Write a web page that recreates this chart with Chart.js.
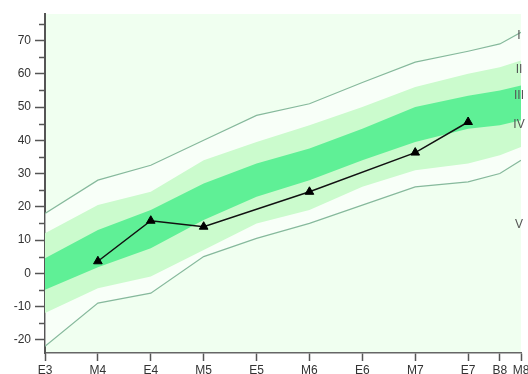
<!DOCTYPE html>
<html><head><meta charset="utf-8">
<script src="https://cdn.jsdelivr.net/npm/chart.js@4/dist/chart.umd.min.js"></script>
<style>html,body{margin:0;padding:0;background:#fff;}#wrap{width:528px;height:374px;}</style>
</head><body><div id="wrap"><canvas id="c" width="528" height="374"></canvas></div>
<script>
// x positions of the category ticks (linear axis) and their labels
const xPositions = [0, 0.5, 1, 1.5, 2, 2.5, 3, 3.5, 4, 4.3, 4.5];
const tickLabels = ['E3','M4','E4','M5','E5','M6','E6','M7','E7','B8','M8'];

// band boundaries at each x position
const upperLine   = [18, 28, 32.5, 40, 47.5, 51, 57.4, 63.5, 66.8, 69, 72.5];
const lightTop    = [12, 20.5, 24.5, 34, 39.5, 44.5, 50, 56, 60, 62, 64];
const centerTop   = [4.5, 13, 19, 27, 33, 37.5, 43.5, 50, 53.4, 55, 56.5];
const centerBot   = [-5, 1.8, 7.5, 16, 23, 28, 34, 39.5, 43.5, 44.5, 46];
const lightBot    = [-12, -4.5, -1, 7, 15, 19, 26, 31, 33, 35.5, 38];
const lowerLine   = [-22, -9, -6, 5, 10.5, 15, 20.5, 26, 27.5, 30, 34];

// measured series
const seriesX = [0.5, 1, 1.5, 2.5, 3.5, 4];
const seriesY = [3.6, 15.8, 14, 24.5, 36.3, 45.5];

// right-side band labels
const bandLabels = ['I','II','III','IV','V'];
const bandLabelValues = [71.5, 61.3, 53.5, 44.7, 14.7];

const pts = arr => xPositions.map((x, i) => ({x: x, y: arr[i]}));

const bgPlugin = {
  id: 'bg',
  beforeDraw(chart) {
    const {ctx, chartArea: a} = chart;
    ctx.save();
    ctx.fillStyle = '#f0fff0';
    ctx.fillRect(a.left, a.top, a.right - a.left, a.bottom - a.top);
    ctx.restore();
  }
};
const extrasPlugin = {
  id: 'extras',
  afterDraw(chart) {
    const {ctx, chartArea: a} = chart;
    const y = chart.scales.y;
    ctx.save();
    ctx.strokeStyle = '#555';
    ctx.lineWidth = 1.5;
    for (let v = -15; v <= 75; v += 10) {
      const py = Math.round(y.getPixelForValue(v)) + 0.5;
      ctx.beginPath();
      ctx.moveTo(a.left - 6, py);
      ctx.lineTo(a.left, py);
      ctx.stroke();
    }
    ctx.fillStyle = '#555';
    ctx.font = '12px "Liberation Sans", Arial, sans-serif';
    ctx.textAlign = 'center';
    ctx.textBaseline = 'middle';
    bandLabels.forEach((t, i) => {
      ctx.fillText(t, a.right - 2, y.getPixelForValue(bandLabelValues[i]));
    });
    ctx.restore();
  }
};

const bandDs = (arr, extra) => Object.assign({
  data: pts(arr), borderWidth: 0, pointRadius: 0, tension: 0, fill: false,
  borderColor: 'rgba(0,0,0,0)'
}, extra);

new Chart(document.getElementById('c'), {
  type: 'line',
  data: {
    datasets: [
      bandDs(upperLine, {fill: {target: 5}, backgroundColor: 'rgba(255,255,255,0.55)', borderColor: '#86b99c', borderWidth: 1.2, order: 10}),
      bandDs(lightTop,  {fill: {target: 4}, backgroundColor: '#cbfbcd', order: 9}),
      bandDs(centerTop, {fill: {target: 3}, backgroundColor: '#5ff096', order: 8}),
      bandDs(centerBot, {order: 7}),
      bandDs(lightBot,  {order: 6}),
      bandDs(lowerLine, {borderColor: '#86b99c', borderWidth: 1.2, order: 5}),
      {
        data: seriesX.map((x, i) => ({x: x, y: seriesY[i]})),
        borderColor: '#111', borderWidth: 1.5, tension: 0, fill: false,
        pointStyle: 'triangle', pointRadius: 5, pointBackgroundColor: '#000',
        pointBorderColor: '#000', pointBorderWidth: 1, order: 0
      }
    ]
  },
  options: {
    responsive: false, animation: false, devicePixelRatio: 1,
    layout: {padding: {top: 14, right: 7, left: 0, bottom: 0}},
    plugins: {legend: {display: false}, tooltip: {enabled: false}},
    scales: {
      x: {
        type: 'linear', min: 0, max: 4.5,
        afterBuildTicks: s => { s.ticks = xPositions.map(v => ({value: v})); },
        afterFit: s => { s.height = 21; s.paddingLeft = 0; s.paddingRight = 0; },
        ticks: {
          autoSkip: false, maxRotation: 0, padding: 2, color: '#333',
          font: {family: '"Liberation Sans", Arial, sans-serif', size: 12},
          callback: (v, i) => tickLabels[i]
        },
        grid: {drawOnChartArea: false, drawTicks: true, tickLength: 8, tickColor: '#555', tickWidth: 1.5},
        border: {display: true, color: '#666', width: 1.5}
      },
      y: {
        min: -24, max: 78,
        afterBuildTicks: s => { const t = []; for (let v = -20; v <= 70; v += 10) t.push({value: v}); s.ticks = t; },
        afterFit: s => { s.width = 45; s.paddingTop = 0; s.paddingBottom = 0; },
        ticks: {
          padding: 4, color: '#333',
          font: {family: '"Liberation Sans", Arial, sans-serif', size: 12}
        },
        grid: {drawOnChartArea: false, drawTicks: true, tickLength: 10, tickColor: '#555', tickWidth: 1.5},
        border: {display: true, color: '#555', width: 2}
      }
    }
  },
  plugins: [bgPlugin, extrasPlugin]
});
</script>
</body></html>
